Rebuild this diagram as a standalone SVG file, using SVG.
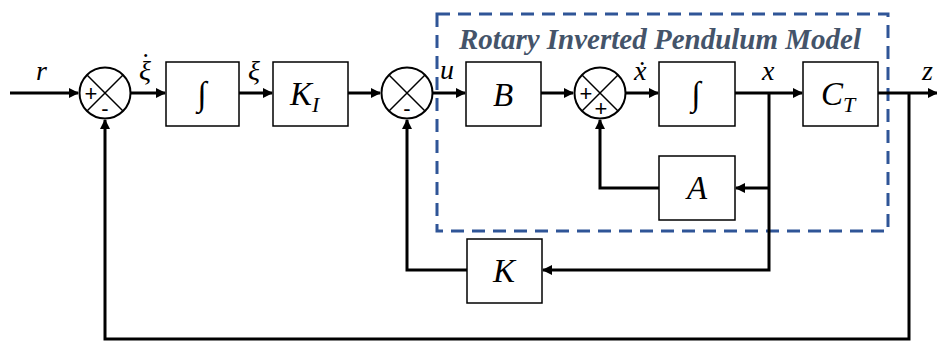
<svg xmlns="http://www.w3.org/2000/svg" width="937" height="342" viewBox="0 0 937 342">
<defs>
<marker id="ah" markerWidth="10" markerHeight="10" refX="9" refY="5" orient="auto" markerUnits="userSpaceOnUse">
<path d="M0,0 L10,5 L0,10 Z" fill="#000"/>
</marker>
<style>
.box{fill:#fff;stroke:#000;stroke-width:1.5}
.sum{fill:#fff;stroke:#000;stroke-width:2}
.x{stroke:#000;stroke-width:1.5}
.w{fill:none;stroke:#000;stroke-width:3}
.lbl{font-family:"Liberation Serif",serif;font-style:italic;fill:#000}
.int{font-family:"Liberation Serif",serif;font-size:34px;fill:#000}
.sgn{font-family:"Liberation Sans",Arial,sans-serif;font-size:22px;fill:#000}
.title{font-family:"Liberation Serif",serif;font-style:italic;font-weight:bold;font-size:29px;fill:#44546a}
</style>
</defs>
<rect width="937" height="342" fill="#fff"/>
<g id="model-frame">
<rect x="437" y="14" width="451" height="217" fill="none" stroke="#2f5597" stroke-width="3" stroke-dasharray="13,8"/>
<text class="title" x="660" y="49" text-anchor="middle">Rotary Inverted Pendulum Model</text>
</g>
<g id="connectors">
<path class="w" d="M10,93 L78,93" marker-end="url(#ah)"/>
<path class="w" d="M131,93 L165,93" marker-end="url(#ah)"/>
<path class="w" d="M239,93 L272,93" marker-end="url(#ah)"/>
<path class="w" d="M348,93 L380,93" marker-end="url(#ah)"/>
<path class="w" d="M433,93 L465,93" marker-end="url(#ah)"/>
<path class="w" d="M541,93 L573,93" marker-end="url(#ah)"/>
<path class="w" d="M626,93 L658,93" marker-end="url(#ah)"/>
<path class="w" d="M735,93 L802,93" marker-end="url(#ah)"/>
<path class="w" d="M878,93 L937,93" marker-end="url(#ah)"/>
<path class="w" d="M769,93 L769,270 L543,270" marker-end="url(#ah)"/>
<path class="w" d="M769,188 L736,188" marker-end="url(#ah)"/>
<path class="w" d="M659,188 L600,188 L600,120" marker-end="url(#ah)"/>
<path class="w" d="M467,270 L407,270 L407,120" marker-end="url(#ah)"/>
<path class="w" d="M909,93 L909,339 L105,339 L105,120" marker-end="url(#ah)"/>
</g>
<g id="labels" class="lbl" font-size="28">
<text x="36" y="80">r</text>
<text x="139" y="80">ξ<tspan dx="-10" dy="-8" font-style="normal">˙</tspan></text>
<text x="248" y="80">ξ</text>
<text x="440" y="79">u</text>
<text x="634" y="80">ẋ</text>
<text x="762" y="80">x</text>
<text x="922" y="80">z</text>
</g>
<g id="sum1">
<circle class="sum" cx="105" cy="93" r="25.5"/>
<path class="x" d="M87,75 L123,111 M123,75 L87,111"/>
<text class="sgn" x="91" y="101" text-anchor="middle">+</text>
<text class="sgn" x="105" y="116" text-anchor="middle">-</text>
</g>
<g id="int1">
<rect class="box" x="166" y="62" width="73" height="64"/>
<text class="int" x="202" y="105" text-anchor="middle">∫</text>
</g>
<g id="KI">
<rect class="box" x="273" y="62" width="75" height="64"/>
<text class="lbl" x="290" y="105" font-size="33">K<tspan font-size="22" dy="7">I</tspan></text>
</g>
<g id="sum2">
<circle class="sum" cx="407" cy="93" r="25.5"/>
<path class="x" d="M389,75 L425,111 M425,75 L389,111"/>
<text class="sgn" x="407" y="116" text-anchor="middle">-</text>
</g>
<g id="B">
<rect class="box" x="466" y="62" width="75" height="64"/>
<text class="lbl" x="503" y="106" font-size="33" text-anchor="middle">B</text>
</g>
<g id="sum3">
<circle class="sum" cx="600" cy="93" r="25.5"/>
<path class="x" d="M582,75 L618,111 M618,75 L582,111"/>
<text class="sgn" x="586" y="101" text-anchor="middle">+</text>
<text class="sgn" x="601" y="116" text-anchor="middle">+</text>
</g>
<g id="int2">
<rect class="box" x="659" y="62" width="76" height="64"/>
<text class="int" x="696" y="105" text-anchor="middle">∫</text>
</g>
<g id="CT">
<rect class="box" x="803" y="62" width="75" height="64"/>
<text class="lbl" x="821" y="105" font-size="33">C<tspan font-size="22" dy="7">T</tspan></text>
</g>
<g id="A">
<rect class="box" x="659" y="156" width="76" height="64"/>
<text class="lbl" x="697" y="199" font-size="33" text-anchor="middle">A</text>
</g>
<g id="K">
<rect class="box" x="467" y="239" width="75" height="64"/>
<text class="lbl" x="504" y="282" font-size="33" text-anchor="middle">K</text>
</g>
</svg>
